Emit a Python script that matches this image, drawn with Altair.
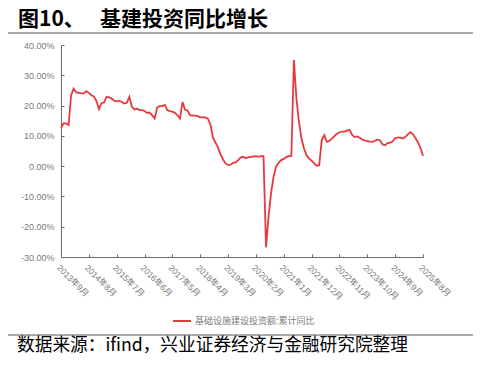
import altair as alt
import pandas as pd

# ---- data ----
values = [
    12.6, 14.1, 14.1, 13.6, 23.4, 25.6, 24.4, 24.2, 24.0, 24.0, 24.75, 24.2, 23.4, 23.0, 21.5, 18.8,
    20.8, 21.0, 22.9, 22.7, 22.3, 21.6, 21.4, 21.6, 21.2, 20.7, 20.9, 22.9, 19.6, 18.7, 19.0, 18.5,
    18.5, 18.2, 17.6, 17.7, 16.8, 15.7, 19.4, 19.8, 19.8, 20.2, 18.5, 18.2, 18.0, 17.6, 16.8, 15.7,
    21.2, 18.7, 18.3, 16.8, 16.7, 16.7, 16.5, 16.1, 16.1, 16.1, 15.7, 13.9, 9.5, 7.8, 6.2, 4.0,
    2.2, 0.9, 0.4, 0.5, 1.1, 1.2, 2.0, 2.9, 3.1, 2.6, 3.0, 3.0, 3.2, 3.3, 3.1, 3.3,
    3.3, -26.8, -16.4, -8.8, -3.3, -0.1, 1.2, 2.0, 2.4, 3.0, 3.3, 3.4, 35.0, 22.3, 14.6, 9.1,
    5.8, 3.6, 2.5, 1.8, 0.9, 0.1, 0.3, 8.6, 10.2, 8.0, 8.3, 9.1, 9.9, 10.7, 11.2, 11.4,
    11.4, 11.7, 12.0, 10.3, 9.6, 9.8, 9.4, 8.8, 8.5, 8.3, 8.1, 8.0, 8.4, 8.8, 8.5, 7.2,
    6.9, 7.6, 7.8, 8.1, 9.3, 9.4, 9.4, 9.1, 9.6, 10.5, 11.2, 10.6, 9.3, 7.9, 6.0, 3.4,
]
tick_labels = ["2013年9月", "2014年8月", "2015年7月", "2016年6月", "2017年5月", "2018年4月",
               "2019年3月", "2020年2月", "2021年1月", "2021年12月", "2022年11月", "2023年10月",
               "2024年9月", "2025年8月"]
y_ticks = [40, 30, 20, 10, 0, -10, -20, -30]
series_name = "基础设施建设投资额:累计同比"
title_num = "图10、"
title_text = "基建投资同比增长"
source_text = "数据来源：ifind，兴业证券经济与金融研究院整理"

step = 11
x_ticks = [i * step for i in range(len(tick_labels))]
df = pd.DataFrame({"idx": list(range(len(values))), "value": values, "series": series_name})

RED = "#E8383D"
AX = "#6b6b6b"
LBL = "#7a7a7a"
FONT = "Liberation Sans, Noto Sans CJK SC"
CJK = "Noto Sans CJK SC"

xscale = alt.Scale(domain=[0, x_ticks[-1]], nice=False, zero=False)
yscale = alt.Scale(domain=[-30, 40], nice=False, zero=False)
arr = "[" + ",".join("'" + t + "'" for t in tick_labels) + "]"
x_label_expr = arr + "[round(datum.value/" + str(step) + ")]"
y_label_expr = "(datum.value < 0 ? '-' : '') + format(abs(datum.value), '.2f') + '%'"

base = alt.Chart(df)

line = base.mark_line(strokeWidth=1.8).encode(
    x=alt.X("idx:Q", scale=xscale, title=None,
            axis=alt.Axis(values=x_ticks, labelExpr=x_label_expr, labelAngle=45,
                          labelAlign="left", labelBaseline="top", labelPadding=6,
                          ticks=False, grid=False, domainColor=AX, domainWidth=1,
                          labelColor=LBL, labelFontSize=8.5, labelFont=FONT,
                          labelOverlap=False, orient="bottom")),
    y=alt.Y("value:Q", scale=yscale, title=None,
            axis=alt.Axis(values=y_ticks, labelExpr=y_label_expr, ticks=False, grid=False,
                          domainColor=AX, domainWidth=1, labelColor=LBL, labelFontSize=9,
                          labelFont=FONT, labelPadding=7, orient="left")),
    color=alt.Color("series:N", scale=alt.Scale(range=[RED]),
                    legend=alt.Legend(orient="none", legendX=111, legendY=266, title=None,
                                      symbolType="stroke", symbolSize=324, symbolStrokeWidth=2,
                                      labelFontSize=9, labelColor=LBL, labelFont=FONT,
                                      labelOffset=3, padding=0, labelLimit=400)),
)

ticks = base.mark_line(opacity=0).encode(
    x=alt.X("idx:Q", scale=xscale, title=None,
            axis=alt.Axis(values=x_ticks[1:], labels=False, domain=False, ticks=True,
                          tickSize=3, tickColor=AX, offset=-3, grid=False, orient="bottom")),
    y=alt.Y("value:Q", scale=yscale, title=None,
            axis=alt.Axis(values=y_ticks, labels=False, domain=False, ticks=True,
                          tickSize=3, tickColor=AX, offset=-3, grid=False, orient="left")),
)

one = pd.DataFrame({"k": [0]})
t1 = alt.Chart(pd.DataFrame({"t": [title_num]})).mark_text(
    align="left", baseline="alphabetic", fontSize=21, fontWeight="bold", font=CJK, color="#000"
).encode(x=alt.value(-43), y=alt.value(-19), text="t:N")
t2 = alt.Chart(pd.DataFrame({"t": [title_text]})).mark_text(
    align="left", baseline="alphabetic", fontSize=21, fontWeight="bold", font=CJK, color="#000"
).encode(x=alt.value(39), y=alt.value(-19), text="t:N")
top_rule = alt.Chart(one).mark_rule(color="#8c8c8c", strokeWidth=1.5).encode(
    x=alt.value(-56), x2=alt.value(414), y=alt.value(-12))
bot_rule = alt.Chart(one).mark_rule(color="#8c8c8c", strokeWidth=1.5).encode(
    x=alt.value(-56), x2=alt.value(414), y=alt.value(290))
src = alt.Chart(pd.DataFrame({"t": [source_text]})).mark_text(
    align="left", baseline="middle", fontSize=17.7, font=CJK, color="#000"
).encode(x=alt.value(-44), y=alt.value(301), text="t:N")

chart = alt.layer(line, ticks, t1, t2, top_rule, bot_rule, src).resolve_axis(
    x="independent", y="independent"
).properties(
    width=362, height=212,
    autosize=alt.AutoSizeParams(type="none"),
    padding={"left": 53, "top": 37, "right": 50, "bottom": 98},
).configure_view(stroke=None)

chart.save("out.html", embed_options={"renderer": "svg", "actions": False})
